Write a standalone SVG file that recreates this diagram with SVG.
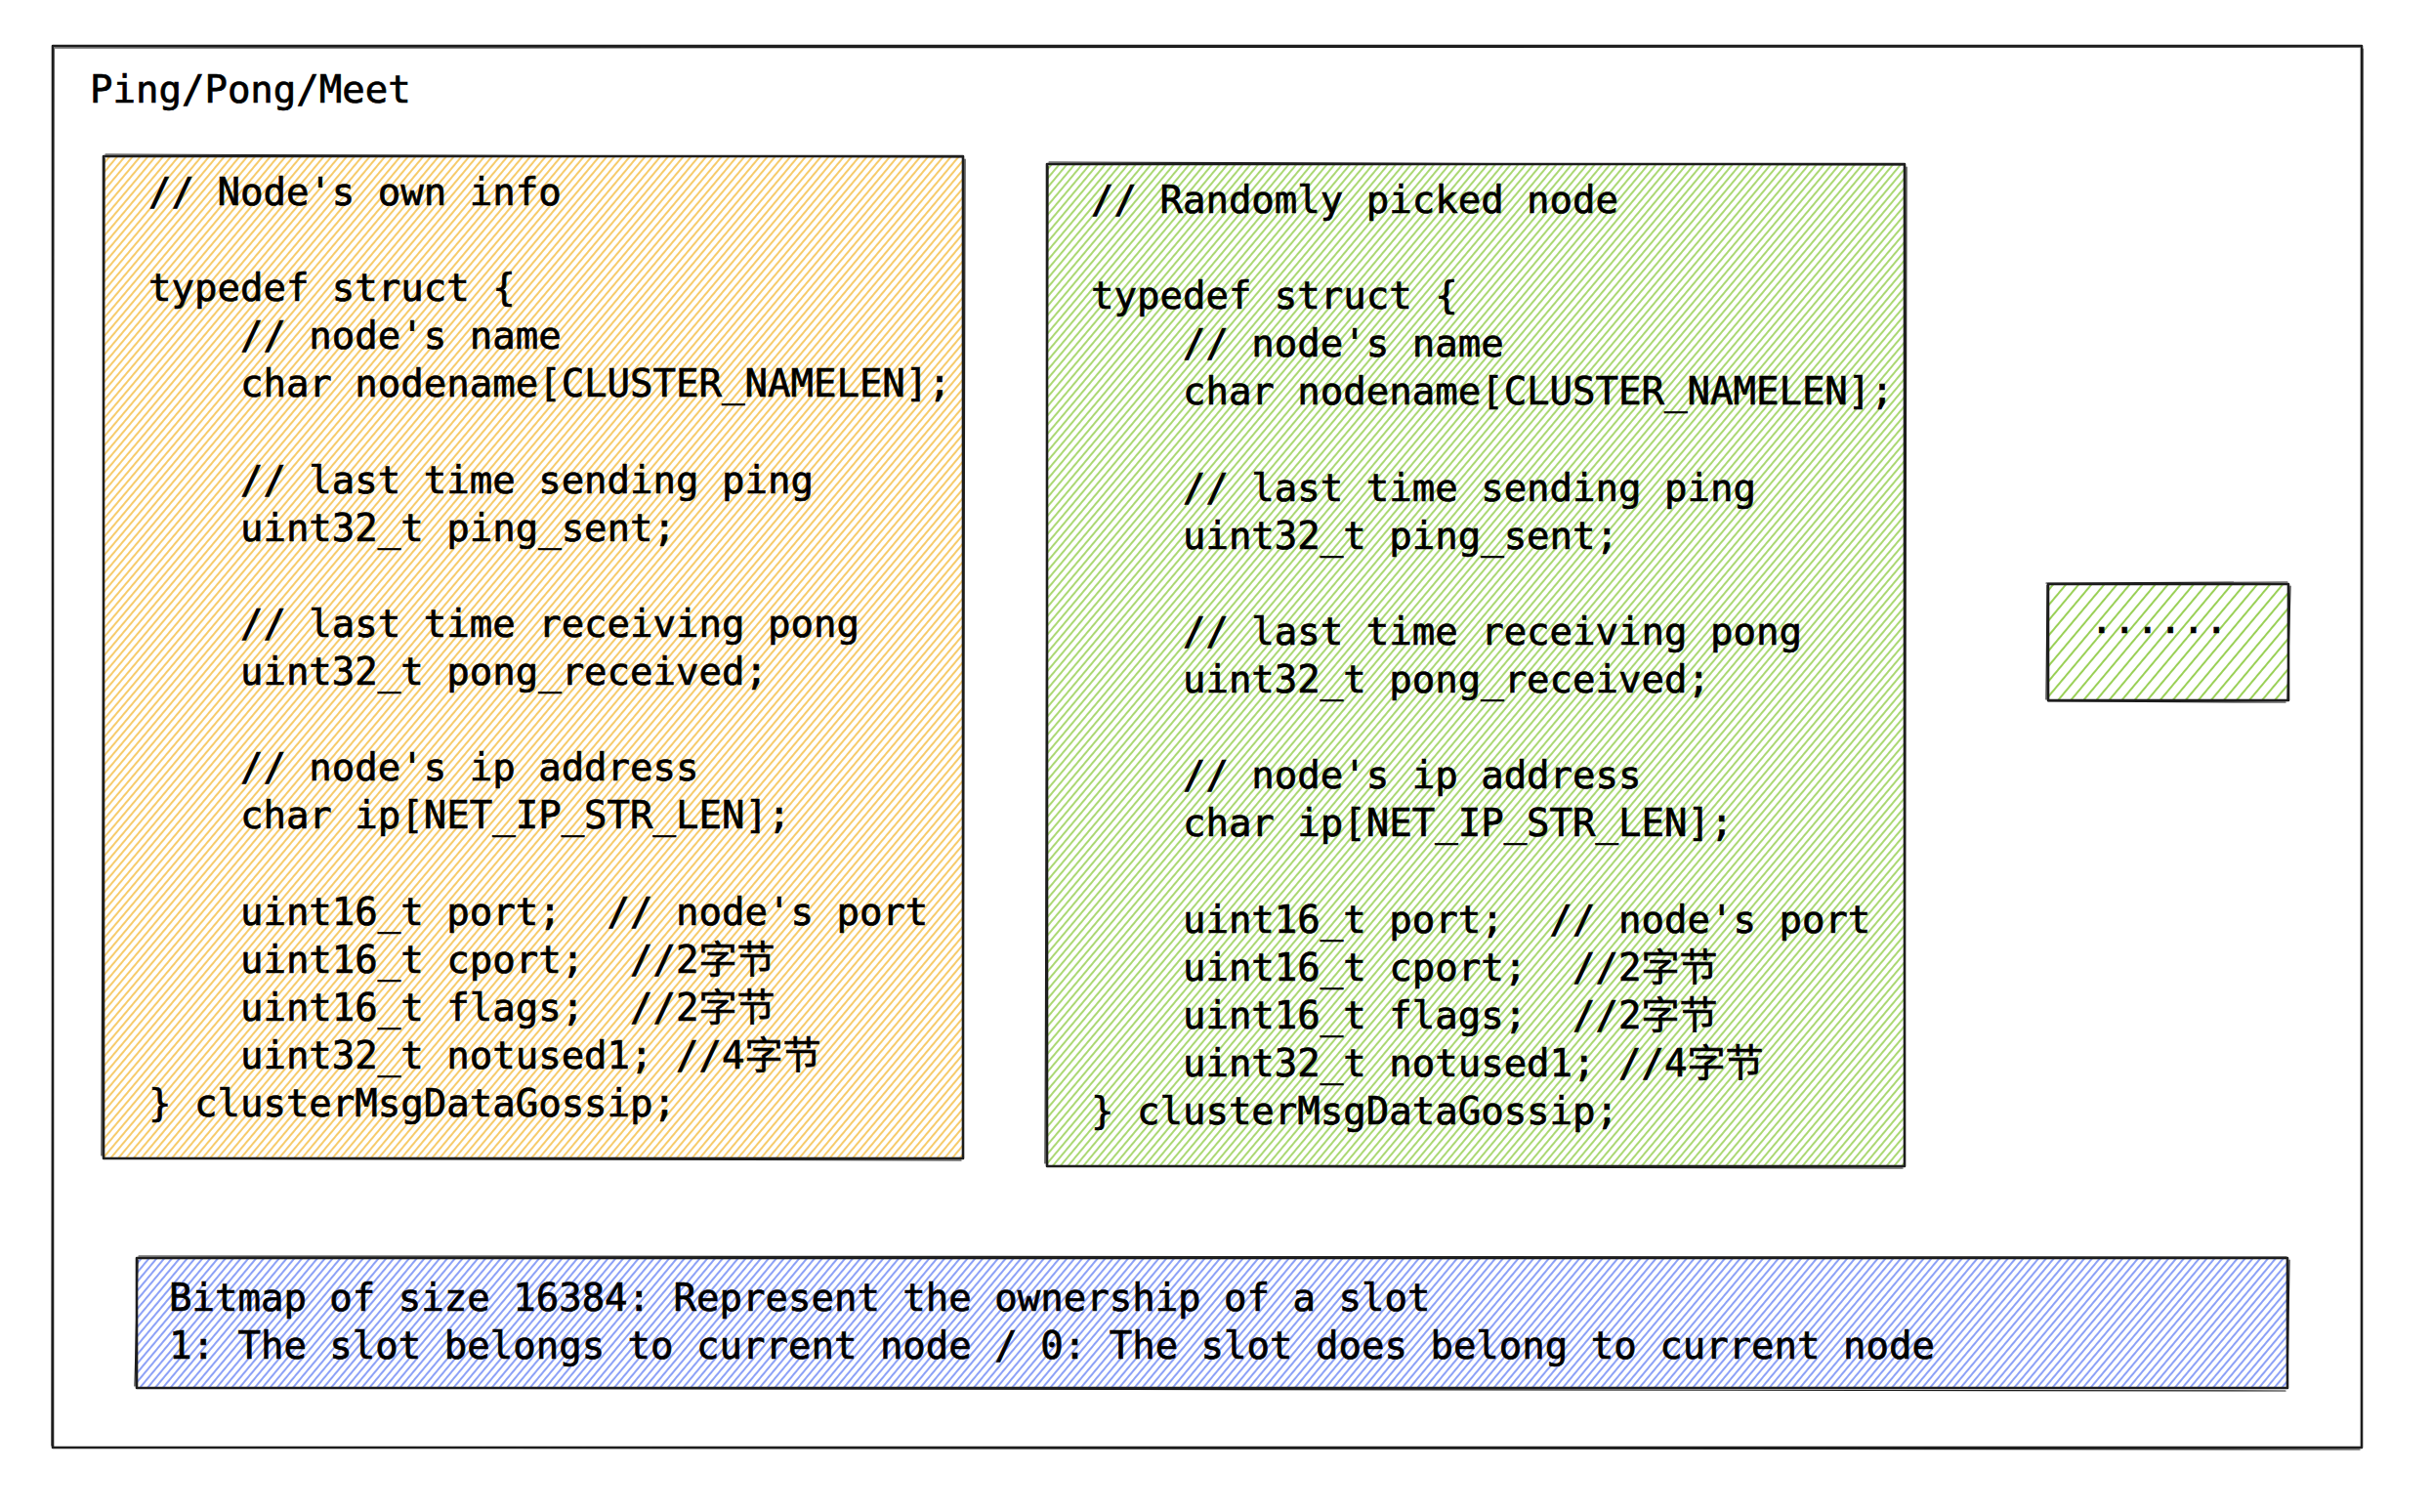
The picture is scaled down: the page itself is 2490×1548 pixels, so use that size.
<svg xmlns="http://www.w3.org/2000/svg" width="2490" height="1548" viewBox="0 0 2490 1548">
<defs>
<pattern id="hY" patternUnits="userSpaceOnUse" width="6" height="6" patternTransform="rotate(40)">
<line x1="3" y1="0" x2="3" y2="6" stroke="#f3b93a" stroke-width="1.5"/>
</pattern>
<pattern id="hG" patternUnits="userSpaceOnUse" width="6" height="6" patternTransform="rotate(40)">
<line x1="3" y1="0" x2="3" y2="6" stroke="#8fcb45" stroke-width="1.5"/>
</pattern>
<pattern id="hG2" patternUnits="userSpaceOnUse" width="10" height="10" patternTransform="rotate(40)">
<line x1="5" y1="0" x2="5" y2="10" stroke="#8fcb45" stroke-width="1.8"/>
</pattern>
<pattern id="hB" patternUnits="userSpaceOnUse" width="6" height="6" patternTransform="rotate(40)">
<line x1="3" y1="0" x2="3" y2="6" stroke="#5c79f2" stroke-width="1.4"/>
</pattern>
</defs>
<style>
.code{font-family:"DejaVu Sans Mono","Liberation Mono","Noto Sans CJK SC",monospace;font-size:39px;fill:#000;stroke:#000;stroke-width:0.7;white-space:pre}
.bd{fill:none;stroke:#1e1e1e;stroke-width:2.6;stroke-linecap:round;stroke-linejoin:round}
.bd2{fill:none;stroke:#1e1e1e;stroke-width:1.2;stroke-linecap:round}
</style>
<rect width="2490" height="1548" fill="#ffffff"/>

<g id="frame">
<rect x="54" y="47" width="2364" height="1435" class="bd"/>
<path d="M56 49 L2416 48 M2419 50 L2418 1480 M2416 1484 L55 1482 M53 1480 L55 50" class="bd2"/>
<text x="92" y="105" class="code" xml:space="preserve">Ping/Pong/Meet</text>
</g>

<g id="node-own">
<rect x="106" y="160" width="880" height="1026" fill="url(#hY)"/>
<rect x="106" y="160" width="880" height="1026" class="bd"/>
<path d="M108 158 L985 161 M988 163 L986 1184 M984 1188 L107 1186 M104 1183 L107 162" class="bd2"/>
<text class="code" xml:space="preserve"><tspan x="152" y="210">// Node's own info</tspan><tspan x="152" y="308.2">typedef struct {</tspan><tspan x="152" y="357.3">    // node's name</tspan><tspan x="152" y="406.4">    char nodename[CLUSTER_NAMELEN];</tspan><tspan x="152" y="504.6">    // last time sending ping</tspan><tspan x="152" y="553.7">    uint32_t ping_sent;</tspan><tspan x="152" y="651.9">    // last time receiving pong</tspan><tspan x="152" y="701">    uint32_t pong_received;</tspan><tspan x="152" y="799.2">    // node's ip address</tspan><tspan x="152" y="848.3">    char ip[NET_IP_STR_LEN];</tspan><tspan x="152" y="946.5">    uint16_t port;  // node's port</tspan><tspan x="152" y="995.6">    uint16_t cport;  //2字节</tspan><tspan x="152" y="1044.7">    uint16_t flags;  //2字节</tspan><tspan x="152" y="1093.8">    uint32_t notused1; //4字节</tspan><tspan x="152" y="1142.9">} clusterMsgDataGossip;</tspan></text>
</g>

<g id="node-random">
<rect x="1072" y="168" width="878" height="1026" fill="url(#hG)"/>
<rect x="1072" y="168" width="878" height="1026" class="bd"/>
<path d="M1074 166 L1949 169 M1952 171 L1950 1192 M1948 1196 L1073 1194 M1070 1191 L1073 170" class="bd2"/>
<text class="code" xml:space="preserve"><tspan x="1117" y="218">// Randomly picked node</tspan><tspan x="1117" y="316.2">typedef struct {</tspan><tspan x="1117" y="365.3">    // node's name</tspan><tspan x="1117" y="414.4">    char nodename[CLUSTER_NAMELEN];</tspan><tspan x="1117" y="512.6">    // last time sending ping</tspan><tspan x="1117" y="561.7">    uint32_t ping_sent;</tspan><tspan x="1117" y="659.9">    // last time receiving pong</tspan><tspan x="1117" y="709">    uint32_t pong_received;</tspan><tspan x="1117" y="807.2">    // node's ip address</tspan><tspan x="1117" y="856.3">    char ip[NET_IP_STR_LEN];</tspan><tspan x="1117" y="954.5">    uint16_t port;  // node's port</tspan><tspan x="1117" y="1003.6">    uint16_t cport;  //2字节</tspan><tspan x="1117" y="1052.7">    uint16_t flags;  //2字节</tspan><tspan x="1117" y="1101.8">    uint32_t notused1; //4字节</tspan><tspan x="1117" y="1150.9">} clusterMsgDataGossip;</tspan></text>
</g>

<g id="node-more">
<rect x="2097" y="598" width="246" height="119" fill="url(#hG2)"/>
<rect x="2097" y="598" width="246" height="119" class="bd"/>
<path d="M2095 597 L2342 596 M2345 600 L2342 716 M2340 719 L2097 718 M2095 716 L2096 599" class="bd2"/>
<text x="2210.5" y="648" class="code" text-anchor="middle" xml:space="preserve">......</text>
</g>

<g id="bitmap">
<rect x="140" y="1288" width="2202" height="133" fill="url(#hB)"/>
<rect x="140" y="1288" width="2202" height="133" class="bd"/>
<path d="M142 1286 L2341 1287 M2344 1290 L2342 1420 M2340 1424 L141 1421 M138 1419 L141 1290" class="bd2"/>
<text class="code" xml:space="preserve"><tspan x="173" y="1342">Bitmap of size 16384: Represent the ownership of a slot</tspan><tspan x="173" y="1391">1: The slot belongs to current node / 0: The slot does belong to current node</tspan></text>
</g>

<g id="connectors"></g>
</svg>
